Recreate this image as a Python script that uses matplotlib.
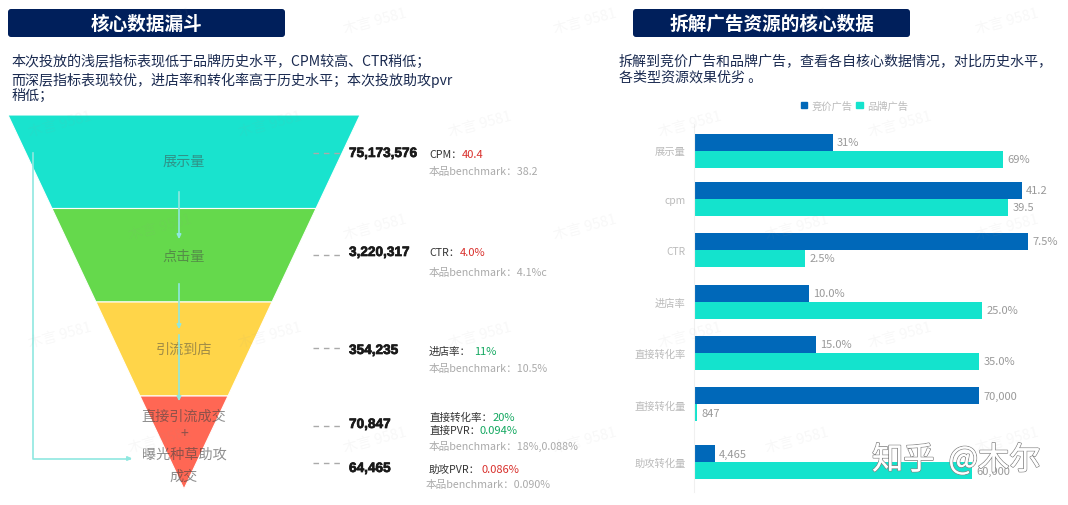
import matplotlib
matplotlib.use('Agg')
import matplotlib.pyplot as plt
import matplotlib.patheffects as pe
from matplotlib.patches import FancyBboxPatch, Polygon, Patch

plt.rcParams['font.family'] = ['Noto Sans CJK SC', 'DejaVu Sans']

# Funnel data
funnel_names = ['展示量', '点击量', '引流到店']
funnel_bottom_names = ['直接引流成交', '+', '曝光种草助攻', '成交']
funnel_numbers = ['75,173,576', '3,220,317', '354,235', '70,847', '64,465']
funnel_colors = ['#14e3cd', '#62d948', '#ffd545', '#ff6450']

# Bar data: every metric has its own scale in the original chart
categories = ['展示量', 'cpm', 'CTR', '进店率', '直接转化率', '直接转化量', '助攻转化量']
bid_values = [31, 41.2, 7.5, 10.0, 15.0, 70000, 4465]
brand_values = [69, 39.5, 2.5, 25.0, 35.0, 847, 60000]
row_full_scale = [74.6, 42.0, 7.5, 29.0, 41.0, 82000, 72000]
bid_labels = ['31%', '41.2', '7.5%', '10.0%', '15.0%', '70,000', '4,465']
brand_labels = ['69%', '39.5', '2.5%', '25.0%', '35.0%', '847', '60,000']

BLUE = '#0068b9'
TEAL = '#14e3cd'
RED = '#d9302c'
GREEN = '#13a860'
NAVY = '#001f5b'
TEXT_BLUE = '#1a2a50'

# full width punctuation
CM = '\uff0c'
SC = '\uff1b'
CL = '\uff1a'

fig = plt.figure(figsize=(10.68, 5.06), dpi=100)

# Bars
row_y = [151.5, 200, 251, 303, 354, 405.5, 463]
bar_h = 17
ax_bar = fig.add_axes([694 / 1068, 1 - 493 / 506, 334 / 1068, (493 - 125) / 506], zorder=1)
bid_share = [v / s for v, s in zip(bid_values, row_full_scale)]
brand_share = [v / s for v, s in zip(brand_values, row_full_scale)]
ax_bar.barh([y - bar_h / 2 for y in row_y], bid_share, height=bar_h, color=BLUE)
ax_bar.barh([y + bar_h / 2 for y in row_y], brand_share, height=bar_h, color=TEAL)
ax_bar.set_xlim(0, 1)
ax_bar.set_ylim(493, 125)
ax_bar.set_xticks([])
ax_bar.set_yticks(row_y)
ax_bar.set_yticklabels(categories, fontsize=7.4, color='#bbbbbb')
ax_bar.tick_params(axis='y', length=0, pad=6)
for s in ['top', 'right', 'bottom']:
    ax_bar.spines[s].set_visible(False)
ax_bar.spines['left'].set_color('#f0f0f0')
ax_bar.patch.set_alpha(0)
for i, y in enumerate(row_y):
    ax_bar.annotate(bid_labels[i], (bid_share[i], y - bar_h / 2), xytext=(3, 0),
                    textcoords='offset points', va='center', fontsize=8, color='#999999')
    ax_bar.annotate(brand_labels[i], (brand_share[i], y + bar_h / 2), xytext=(3, 0),
                    textcoords='offset points', va='center', fontsize=8, color='#999999')
handles = [Patch(color=BLUE, label='竞价广告'), Patch(color=TEAL, label='品牌广告')]
ax_bar.legend(handles=handles, ncol=2, frameon=False, fontsize=7.4, labelcolor='#bbbbbb',
              loc='center', bbox_to_anchor=(0.48, 1.05), handlelength=0.6, handleheight=0.6,
              handletextpad=0.4, columnspacing=0.4, borderpad=0, borderaxespad=0)

# Everything else is drawn in pixel coordinates
ax = fig.add_axes([0, 0, 1, 1], zorder=2)
ax.set_xlim(0, 1068)
ax.set_ylim(506, 0)
ax.axis('off')
ax.patch.set_alpha(0)

# Watermarks
for wy, xs in [(22, [160, 375, 585, 797, 1007]), (125, [60, 270, 480, 690, 900]),
               (228, [160, 375, 585, 797, 1007]), (336, [60, 270, 480, 690, 900]),
               (441, [160, 375, 585, 797, 1007])]:
    for wx in xs:
        ax.text(wx, wy, '木言 9581', fontsize=10.5, color='#999999', alpha=0.07, rotation=15,
                ha='center', va='center')

# Headers
for x0, x1, title in [(8, 285, '核心数据漏斗'), (633, 910, '拆解广告资源的核心数据')]:
    ax.add_patch(FancyBboxPatch((x0 + 3, 13), x1 - x0 - 6, 22, boxstyle='round,pad=3',
                                fc=NAVY, ec='none'))
    ax.text((x0 + x1) / 2, 24.5, title, color='white', fontsize=13.4, fontweight='bold',
            ha='center', va='center')

# Intro paragraphs
left_lines = ['本次投放的浅层指标表现低于品牌历史水平' + CM + 'CPM较高、CTR稍低' + SC,
              '而深层指标表现较优' + CM + '进店率和转化率高于历史水平' + SC + '本次投放助攻pvr',
              '稍低' + SC]
for y, line in zip([62, 80, 96], left_lines):
    ax.text(11, y, line, fontsize=10.1, color=TEXT_BLUE, va='center')
right_lines = ['拆解到竞价广告和品牌广告' + CM + '查看各自核心数据情况' + CM + '对比历史水平' + CM,
               '各类型资源效果优劣 。']
for y, line in zip([61, 78], right_lines):
    ax.text(619, y, line, fontsize=10.1, color=TEXT_BLUE, va='center')

# Funnel
edges_y = [116, 209.5, 303, 397, 490]
half_w = [176, 132, 88, 44, 0]
cx = 184
for i, c in enumerate(funnel_colors):
    pts = [(cx - half_w[i], edges_y[i]), (cx + half_w[i], edges_y[i]),
           (cx + half_w[i + 1], edges_y[i + 1]), (cx - half_w[i + 1], edges_y[i + 1])]
    ax.add_patch(Polygon(pts, closed=True, fc=c, ec='white', lw=0.8, alpha=0.98))

for y, name in zip([162, 257, 350], funnel_names):
    ax.text(cx, y, name, fontsize=10.2, color='#444444', alpha=0.5, ha='center', va='center')
for y, name in zip([417, 434, 455, 477], funnel_bottom_names):
    ax.text(cx, y, name, fontsize=10.2, color='#444444', alpha=0.6, ha='center', va='center')

# Flow arrows
arrow_c = '#8fe8e0'
for y0, y1 in [(190, 243), (282, 333), (333, 405)]:
    ax.annotate('', xy=(179, y1), xytext=(179, y0),
                arrowprops=dict(arrowstyle='-|>,head_width=0.12,head_length=0.25', color=arrow_c, lw=1.2))
ax.plot([33, 33, 130], [154, 459.5, 459.5], color=arrow_c, lw=1.2)
ax.annotate('', xy=(135, 459.5), xytext=(125, 459.5),
            arrowprops=dict(arrowstyle='-|>,head_width=0.12,head_length=0.25', color=arrow_c, lw=1.2))

# Dashes and big numbers
for y in [154, 256, 349, 427, 464]:
    ax.plot([313, 344], [y, y], color='#aaaaaa', lw=1, dashes=(4, 3.5))
for y, num in zip([154, 253, 351, 425, 469], funnel_numbers):
    t = ax.text(349, y, num, fontsize=9.8, family='Liberation Sans', fontweight='bold',
                color='#1a1a1a', va='center')
    t.set_path_effects([pe.withStroke(linewidth=0.5, foreground='#1a1a1a')])

# Metric notes
metric_notes = [(429, 155, 'CPM' + CL, 462, '40.4', RED),
                (429, 253, 'CTR' + CL, 460, '4.0%', RED),
                (429, 352, '进店率' + CL, 474, '11%', GREEN),
                (429, 418, '直接转化率' + CL, 493, '20%', GREEN),
                (429, 431, '直接PVR' + CL, 480, '0.094%', GREEN),
                (429, 470, '助攻PVR' + CL, 481, '0.086%', RED)]
for x, y, label, vx, val, col in metric_notes:
    ax.text(x, y, label, fontsize=7.6, color='#333333', va='center')
    ax.text(vx, y, val, fontsize=8, color=col, va='center')

bench_notes = [(429, 172, '本品benchmark' + CL + '38.2'),
               (429, 273, '本品benchmark' + CL + '4.1%c'),
               (429, 369, '本品benchmark' + CL + '10.5%'),
               (429, 446, '本品benchmark' + CL + '18%,0.088%'),
               (426, 485, '本品benchmark' + CL + '0.090%')]
for x, y, line in bench_notes:
    ax.text(x, y, line, fontsize=7.7, color='#aaaaaa', va='center')

# Site watermark
wm = ax.text(872, 461, '知乎  @木尔', fontsize=22.5, color='white', va='center')
wm.set_path_effects([pe.withStroke(linewidth=1.2, foreground='#888888'), pe.Normal()])

fig.savefig('out.png', dpi=100)
